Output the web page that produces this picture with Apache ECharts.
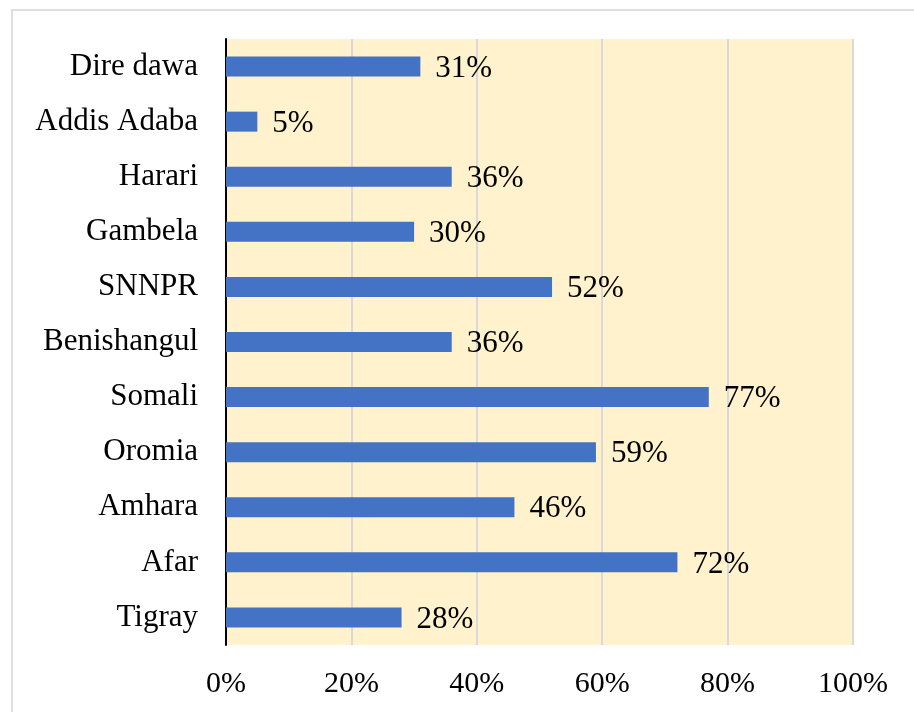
<!DOCTYPE html>
<html>
<head>
<meta charset="utf-8">
<script src="https://cdn.jsdelivr.net/npm/echarts@6/dist/echarts.min.js"></script>
<style>
  html, body { margin: 0; padding: 0; background: #fff; }
  #chart { width: 914px; height: 712px; }
</style>
</head>
<body>
<div id="chart"></div>
<script>
// regions, bottom to top
const regions = ['Tigray', 'Afar', 'Amhara', 'Oromia', 'Somali', 'Benishangul',
                 'SNNPR', 'Gambela', 'Harari', 'Addis Adaba', 'Dire dawa'];
const shares = [28, 72, 46, 59, 77, 36, 52, 30, 36, 5, 31];
const xTicks = [0, 20, 40, 60, 80, 100];

const font = '"Liberation Serif", "Times New Roman", serif';

let chart = echarts.init(document.getElementById('chart'));
let option = {
    animation: false,
    graphic: [{
        type: 'rect',
        shape: { x: 12, y: 10, width: 1000, height: 800 },
        style: { fill: 'none', stroke: '#dedede', lineWidth: 2 },
        silent: true
    }],
    grid: {
        left: 226,
        right: 61,
        top: 39,
        bottom: 67,
        show: true,
        backgroundColor: '#FFF2CC',
        borderWidth: 0
    },
    xAxis: {
        type: 'value',
        min: xTicks[0],
        max: xTicks[xTicks.length - 1],
        interval: 20,
        axisLine: { show: false },
        axisTick: { show: false },
        splitLine: { lineStyle: { color: '#d9d9d9', width: 2 } },
        axisLabel: {
            formatter: '{value}%',
            fontFamily: font,
            fontSize: 30,
            color: '#000',
            margin: 24
        }
    },
    yAxis: {
        type: 'category',
        data: regions,
        axisLine: { lineStyle: { color: '#000', width: 2 } },
        axisTick: { show: false },
        axisLabel: {
            fontFamily: font,
            fontSize: 31,
            color: '#000',
            margin: 28
        }
    },
    series: [{
        type: 'bar',
        data: shares,
        barWidth: 20,
        itemStyle: { color: '#4472C4' },
        label: {
            show: true,
            position: 'right',
            distance: 15,
            formatter: '{c}%',
            fontFamily: font,
            fontSize: 31,
            color: '#000',
            offset: [0, 2]
        }
    }]
};
chart.setOption(option, true);
</script>
</body>
</html>
